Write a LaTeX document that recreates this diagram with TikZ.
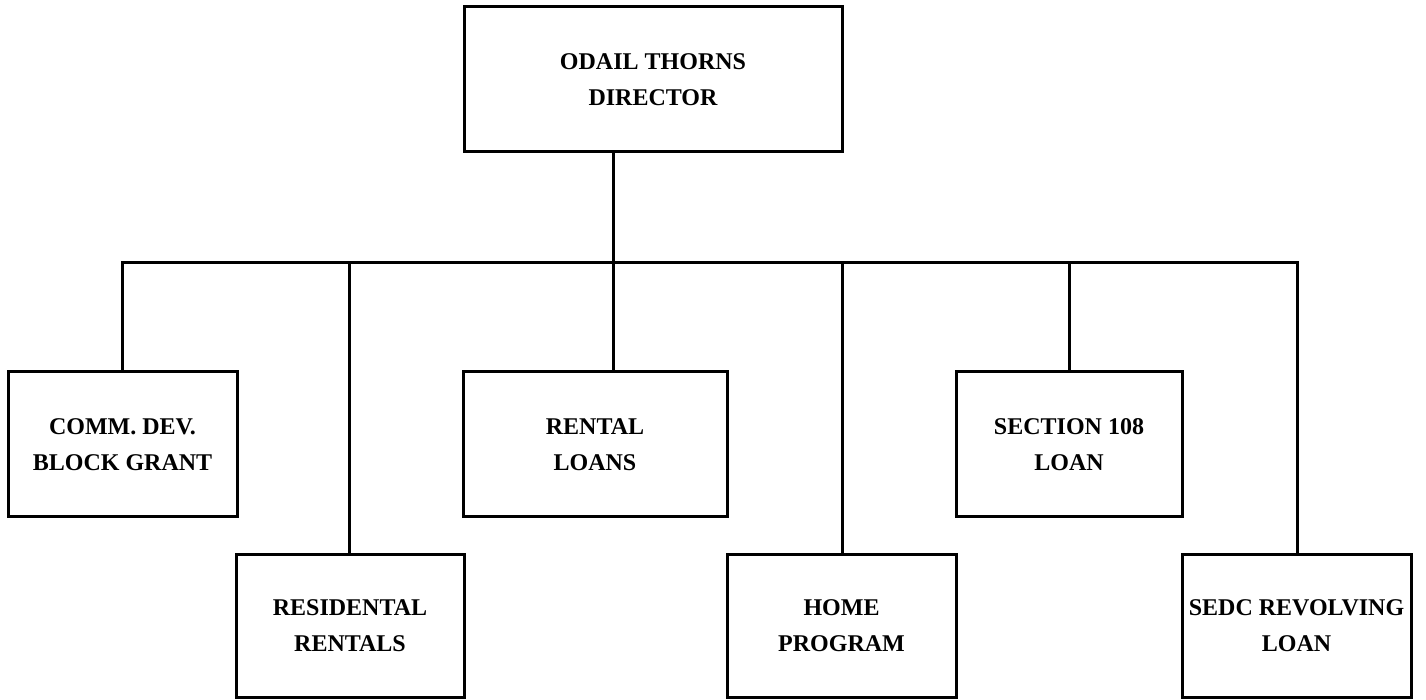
\documentclass[tikz,border=0pt]{standalone}
\usepackage{fontspec}
\setmainfont{Liberation Serif}
\begin{document}
% one unit = one drawing pixel (0.5pt); y grows downwards
\begin{tikzpicture}[x=0.5pt,y=-0.5pt,
  orgbox/.style={draw=black, line width=1.5pt, fill=white, rectangle,
    inner sep=0pt, outer sep=0pt, align=center,
    font=\fontsize{12}{18}\selectfont\bfseries},
  link/.style={draw=black, line width=1.5pt, line join=miter}]
\useasboundingbox[fill=white] (0,0) rectangle (1426,700);

% director
\node[orgbox, minimum width=189pt, minimum height=72.5pt] (dir) at (653,79.5)
  {ODAIL THORNS\\DIRECTOR};

% first row of programs
\node[orgbox, minimum width=114.5pt, minimum height=72.5pt] (cdbg) at (122.5,444.5)
  {COMM. DEV.\\BLOCK GRANT};
\node[orgbox, minimum width=132pt, minimum height=72.5pt] (rloans) at (595,444.5)
  {RENTAL\\LOANS};
\node[orgbox, minimum width=113pt, minimum height=72.5pt] (sec108) at (1069,444.5)
  {SECTION 108\\LOAN};

% second row of programs
\node[orgbox, minimum width=114pt, minimum height=71.5pt] (resid) at (350,625.5)
  {RESIDENTAL\\RENTALS};
\node[orgbox, minimum width=114.5pt, minimum height=71.5pt] (home) at (841.5,625.5)
  {HOME\\PROGRAM};
\node[orgbox, minimum width=114.5pt, minimum height=71.5pt] (sedc) at (1296.5,625.5)
  {SEDC REVOLVING\\LOAN};

% junctions on the distribution bar
\coordinate (jc) at (122,263);
\coordinate (jres) at (349,263);
\coordinate (jmid) at (613,263);
\coordinate (jhome) at (842,263);
\coordinate (jsec) at (1069,263);
\coordinate (jsedc) at (1297,263);

% trunk from the director
\draw[link] (dir.south -| jmid) -- (jmid);

% bar with the two outer drops, drawn as one path for clean corners
\draw[link] (cdbg.north -| jc) -- (jc) -- (jsedc) -- (sedc.north -| jsedc);

% inner drops
\draw[link] (jres) -- (jres |- resid.north);
\draw[link] (jmid) -- (jmid |- rloans.north);
\draw[link] (jhome) -- (jhome |- home.north);
\draw[link] (jsec) -- (jsec |- sec108.north);
\end{tikzpicture}
\end{document}
